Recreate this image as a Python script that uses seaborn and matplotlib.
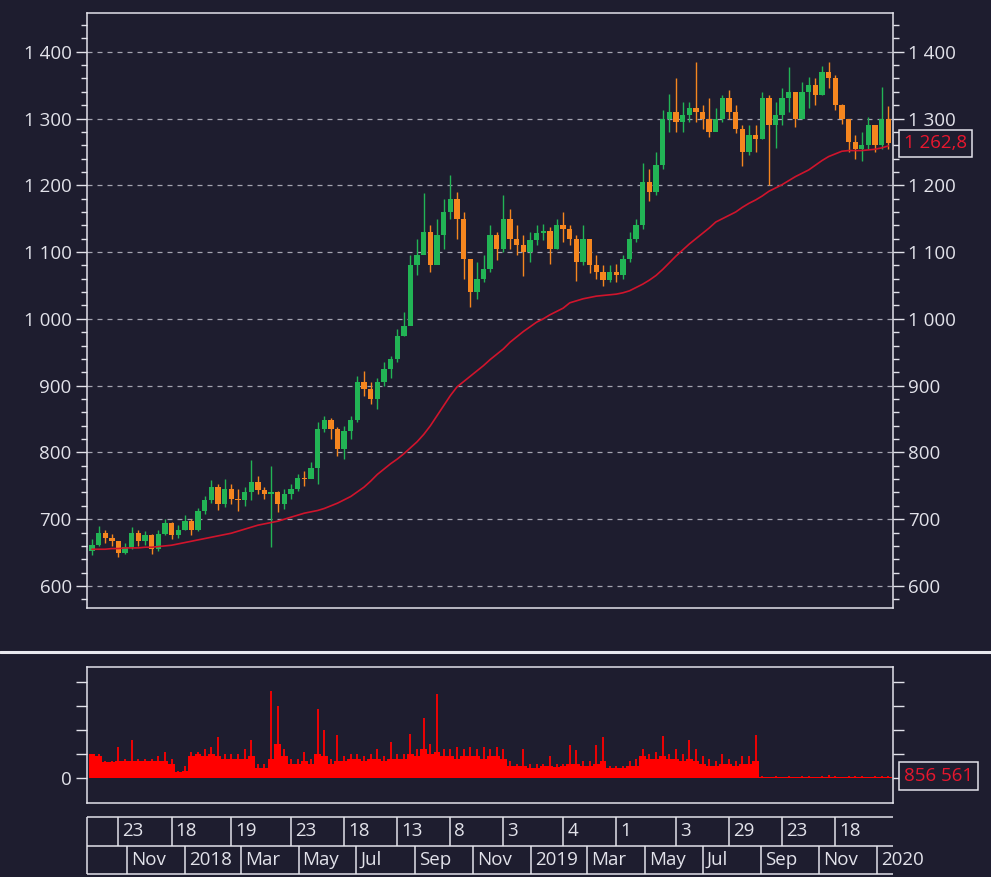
import numpy as np
import pandas as pd
import matplotlib
matplotlib.use("Agg")
import matplotlib.pyplot as plt
import matplotlib.dates as mdates
from matplotlib.lines import Line2D
from matplotlib.ticker import MultipleLocator, FuncFormatter, FixedLocator, FixedFormatter
import seaborn as sns

# Weekly bars, first bar = week of 25 Sep 2017
week_start = "2017-09-25"
first_open = 652

close = [662, 680, 672, 668, 650, 658, 680, 668, 676, 655,
         678, 694, 676, 684, 698, 684, 712, 728, 748, 722,
         745, 730, 728, 740, 755, 744, 738, 740, 722, 738,
         745, 762, 760, 776, 835, 848, 835, 805, 832, 848,
         905, 895, 880, 905, 925, 940, 975, 990, 1080, 1095,
         1130, 1080, 1125, 1160, 1180, 1150, 1090, 1040, 1060, 1075,
         1125, 1105, 1150, 1120, 1110, 1100, 1118, 1128, 1132, 1105,
         1140, 1135, 1120, 1085, 1120, 1080, 1070, 1058, 1070, 1065,
         1090, 1120, 1140, 1205, 1190, 1230, 1300, 1310, 1295, 1305,
         1315, 1310, 1300, 1280, 1300, 1330, 1310, 1285, 1250, 1275,
         1270, 1330, 1290, 1305, 1330, 1340, 1300, 1340, 1350, 1335,
         1370, 1360, 1320, 1300, 1265, 1255, 1260, 1290, 1260, 1300,
         1262.8]

high = [670, 690, 684, 678, 668, 664, 688, 684, 682, 678,
        684, 700, 696, 692, 706, 700, 716, 735, 758, 752,
        760, 752, 745, 748, 789, 765, 748, 779, 742, 745,
        752, 768, 772, 786, 845, 855, 852, 838, 840, 855,
        915, 922, 905, 912, 935, 945, 985, 1010, 1095, 1120,
        1188, 1140, 1150, 1180, 1216, 1190, 1160, 1090, 1085, 1095,
        1140, 1130, 1186, 1165, 1140, 1125, 1130, 1140, 1142, 1138,
        1150, 1160, 1140, 1125, 1140, 1115, 1095, 1080, 1080, 1082,
        1095, 1130, 1150, 1234, 1225, 1250, 1312, 1337, 1360, 1325,
        1325, 1385, 1320, 1330, 1315, 1335, 1342, 1320, 1290, 1290,
        1290, 1340, 1335, 1325, 1345, 1377, 1330, 1355, 1362, 1360,
        1378, 1384, 1365, 1322, 1300, 1275, 1280, 1302, 1285, 1347,
        1318]

low = [646, 660, 664, 660, 644, 648, 656, 660, 662, 648,
       652, 676, 670, 672, 684, 676, 682, 708, 724, 714,
       718, 722, 713, 720, 728, 738, 730, 659, 711, 715,
       730, 742, 750, 762, 753, 830, 820, 795, 790, 820,
       845, 885, 872, 865, 900, 912, 935, 975, 995, 1065,
       1100, 1070, 1090, 1105, 1150, 1120, 1060, 1017, 1030, 1055,
       1070, 1088, 1100, 1105, 1095, 1064, 1085, 1110, 1118, 1082,
       1105, 1115, 1110, 1057, 1080, 1068, 1060, 1049, 1055, 1055,
       1060, 1085, 1115, 1135, 1176, 1185, 1225, 1280, 1280, 1280,
       1295, 1295, 1285, 1272, 1285, 1295, 1300, 1278, 1229, 1245,
       1250, 1270, 1201, 1256, 1290, 1310, 1288, 1300, 1315, 1320,
       1335, 1345, 1312, 1292, 1250, 1240, 1236, 1255, 1250, 1255,
       1255]

# 200-day moving average (red line)
ma200 = [655, 655, 655, 656, 656, 657, 657, 657, 658, 658,
         659, 660, 661, 663, 665, 667, 669, 671, 673, 675,
         677, 679, 682, 685, 688, 691, 693, 695, 697, 700,
         703, 706, 709, 711, 713, 716, 720, 724, 729, 734,
         741, 748, 757, 767, 775, 783, 790, 798, 807, 816,
         827, 840, 855, 870, 885, 898, 906, 914, 922, 930,
         939, 947, 955, 965, 973, 981, 988, 995, 1000, 1006,
         1011, 1016, 1024, 1027, 1030, 1032, 1034, 1035, 1036, 1037,
         1039, 1042, 1047, 1052, 1058, 1065, 1074, 1084, 1094, 1103,
         1112, 1120, 1128, 1136, 1145, 1150, 1155, 1160, 1167, 1173,
         1178, 1184, 1191, 1196, 1201, 1207, 1213, 1218, 1223, 1230,
         1237, 1243, 1247, 1251, 1252, 1252, 1252, 1253, 1254, 1256,
         1259]

# volume in millions: typical level of the week and its biggest day
vol_base = [10, 9, 6.5, 6.5, 7, 7, 7, 7, 7, 7,
            7, 7, 6, 2.5, 3, 9, 10, 9, 10, 9,
            8, 8, 8, 8, 9, 4, 4, 8, 14, 9,
            6, 6, 7, 6, 10, 9, 6, 7, 7, 8,
            8, 7, 8, 8, 7, 8, 8, 8, 10, 9,
            12, 10, 11, 9, 9, 8, 9, 9, 9, 8,
            9, 9, 8, 5, 5, 5, 4, 4, 5, 5,
            4.5, 5, 6, 6, 5, 5, 6, 7, 4, 4,
            4, 5, 5, 9, 8, 8, 9, 8, 8, 7,
            8, 7, 6, 5, 5, 6, 6, 5, 6, 6,
            7, 0.4, 0.3, 0.4, 0.3, 0.4, 0.3, 0.4, 0.5, 0.3,
            0.4, 0.5, 0.4, 0.3, 0.4, 0.5, 0.4, 0.3, 0.5, 0.4,
            0.6]

vol_peak = [10, 10, 7, 7, 13, 8, 16, 8, 8, 8,
            9, 11, 8, 3, 5, 11, 11, 12, 13, 17,
            10, 10, 10, 12, 16, 6, 6, 36.5, 30, 12,
            8, 8, 11, 8, 28.6, 20, 8, 18, 9, 10,
            10, 9, 10, 12, 9, 15, 10, 10, 18.5, 12,
            25, 14, 35, 12, 12, 13, 12, 13, 12, 13,
            12, 13, 12, 7, 6, 12, 6, 6, 6, 9,
            6, 6, 13.6, 11.5, 7, 7, 13.6, 17, 5, 5,
            5, 7, 8, 12, 10, 11, 17.5, 10, 12, 10,
            15.7, 12, 9, 8, 7, 10, 8, 7, 9, 9,
            17.8, 0.8, 0.6, 0.7, 0.6, 0.8, 0.6, 0.7, 1.0, 0.6,
            0.8, 1.2, 0.7, 0.6, 0.8, 0.9, 0.7, 0.6, 1.0, 0.8,
            0.86]

last_price = 1262.8
last_volume = 856561

# date strip below the volume panel
top_dates = ["2017-10-23", "2017-12-18", "2018-02-19", "2018-04-23", "2018-06-18",
             "2018-08-13", "2018-10-08", "2018-12-03", "2019-02-04", "2019-04-01",
             "2019-06-03", "2019-07-29", "2019-09-23", "2019-11-18"]
top_labels = ["23", "18", "19", "23", "18", "13", "8", "3", "4", "1", "3", "29", "23", "18"]
bottom_dates = ["2017-11-01", "2018-01-01", "2018-03-01", "2018-05-01", "2018-07-01",
                "2018-09-01", "2018-11-01", "2019-01-01", "2019-03-01", "2019-05-01",
                "2019-07-01", "2019-09-01", "2019-11-01", "2020-01-01"]
bottom_labels = ["Nov", "2018", "Mar", "May", "Jul", "Sep", "Nov", "2019",
                 "Mar", "May", "Jul", "Sep", "Nov", "2020"]

df = pd.DataFrame({"date": pd.date_range(week_start, periods=len(close), freq="7D"),
                   "close": close, "high": high, "low": low, "ma": ma200,
                   "vol_base": vol_base, "vol_peak": vol_peak})
df["open"] = df["close"].shift(1).fillna(first_open)
df["x"] = mdates.date2num(df["date"])
df["up"] = df["close"] >= df["open"]

bg = "#1e1d2f"
fg = "#e2e2ea"
up_col = "#22b455"
down_col = "#f5861f"
ma_col = "#d0142c"
label_red = "#e8172e"
vol_col = "#ff0000"

sns.set_theme(style="dark", rc={
    "figure.facecolor": bg, "axes.facecolor": bg, "axes.edgecolor": fg,
    "axes.linewidth": 1.1, "text.color": fg, "xtick.color": fg, "ytick.color": fg,
    "axes.grid": False,
})
plt.rcParams["font.family"] = ["Open Sans", "DejaVu Sans"]
fsize = 13.5

W, H = 991, 877
fig = plt.figure(figsize=(W / 100, H / 100), dpi=100)
ax = fig.add_axes([87 / W, 1 - 608 / H, 806 / W, 595 / H])
axv = fig.add_axes([87 / W, 1 - 803 / H, 806 / W, 136 / H])
axd = fig.add_axes([87 / W, 1 - 874 / H, 806 / W, 57 / H])

x0 = mdates.date2num(pd.Timestamp("2017-09-19 19:00"))
x1 = mdates.date2num(pd.Timestamp("2020-01-17 22:00"))

# candles
colors = np.where(df["up"], up_col, down_col)
ax.vlines(df["x"], df["low"], df["high"], colors=colors, lw=1.0, zorder=2)
body_lo = np.minimum(df["open"], df["close"])
body_h = np.maximum(np.abs(df["close"] - df["open"]), 1.5)
ax.bar(df["x"], body_h, bottom=body_lo, width=5.6, color=colors, linewidth=0, zorder=3)

sns.lineplot(data=df, x="x", y="ma", ax=ax, color=ma_col, linewidth=1.2, zorder=4)

ax.set_xlim(x0, x1)
ax.set_ylim(567, 1458)
ax.set_xlabel("")
ax.set_ylabel("")
ax.yaxis.set_major_locator(MultipleLocator(100))
ax.yaxis.set_minor_locator(MultipleLocator(20))
ax.yaxis.set_major_formatter(FuncFormatter(lambda v, p: f"{int(v):,}".replace(",", " ")))
ax.yaxis.grid(True, which="major", linestyle=(0, (4, 4)), color="#a4a4b0", linewidth=0.9)
ax.set_axisbelow(True)
ax.tick_params(axis="y", which="both", left=True, right=True, labelleft=True,
               labelright=True, direction="out", labelsize=fsize, pad=3, width=1)
ax.tick_params(axis="y", which="major", length=8)
ax.tick_params(axis="y", which="minor", length=4)
ax.tick_params(axis="x", bottom=False, labelbottom=False)

price_txt = f"{last_price:,.1f}".replace(",", " ").replace(".", ",")
ax.annotate(price_txt, xy=(1, last_price), xycoords=("axes fraction", "data"),
            xytext=(11, 0), textcoords="offset pixels", ha="left", va="center",
            color=label_red, fontsize=fsize, annotation_clip=False,
            bbox=dict(boxstyle="square,pad=0.25", fc=bg, ec=fg, lw=1.1))

# volume
axv.bar(df["x"], df["vol_base"], width=7, color=vol_col, linewidth=0)
axv.vlines(df["x"], 0, df["vol_peak"], colors=vol_col, lw=1.3)
axv.set_xlim(x0, x1)
axv.set_ylim(-10.4, 46.3)
axv.yaxis.set_major_locator(FixedLocator([0, 10, 20, 30, 40]))
axv.yaxis.set_major_formatter(FixedFormatter(["0", "", "", "", ""]))
axv.tick_params(axis="y", left=True, right=True, labelleft=True, labelright=False,
                direction="out", length=8, width=1, labelsize=fsize, pad=3)
axv.tick_params(axis="x", bottom=False, labelbottom=False)
vol_txt = f"{last_volume:,}".replace(",", " ")
axv.annotate(vol_txt, xy=(1, last_volume / 1e6), xycoords=("axes fraction", "data"),
             xytext=(11, 0), textcoords="offset pixels", ha="left", va="center",
             color=label_red, fontsize=fsize, annotation_clip=False,
             bbox=dict(boxstyle="square,pad=0.25", fc=bg, ec=fg, lw=1.1))

# date strip
axd.set_xlim(x0, x1)
axd.set_ylim(0, 2)
axd.axis("off")
axd.hlines([0, 1, 2], x0, x1, color=fg, lw=1.1, clip_on=False)
axd.vlines(x0, 0, 2, color=fg, lw=1.1, clip_on=False)
tx = mdates.date2num(pd.to_datetime(top_dates))
bx = mdates.date2num(pd.to_datetime(bottom_dates))
axd.vlines(tx, 1, 2, color=fg, lw=1.1)
axd.vlines(bx, 0, 1, color=fg, lw=1.1)
for xv, lab in zip(tx, top_labels):
    axd.annotate(lab, xy=(xv, 1.5), xytext=(4, 0), textcoords="offset pixels",
                 ha="left", va="center", fontsize=fsize, color=fg, annotation_clip=False)
for xv, lab in zip(bx, bottom_labels):
    axd.annotate(lab, xy=(xv, 0.5), xytext=(4, 0), textcoords="offset pixels",
                 ha="left", va="center", fontsize=fsize, color=fg, annotation_clip=False)

# separator between price and volume panes
fig.add_artist(Line2D([0, 1], [1 - 651.5 / H] * 2, transform=fig.transFigure,
                      color="#e8e8ee", lw=2.2))

fig.savefig("out.png", dpi=100, facecolor=bg)
